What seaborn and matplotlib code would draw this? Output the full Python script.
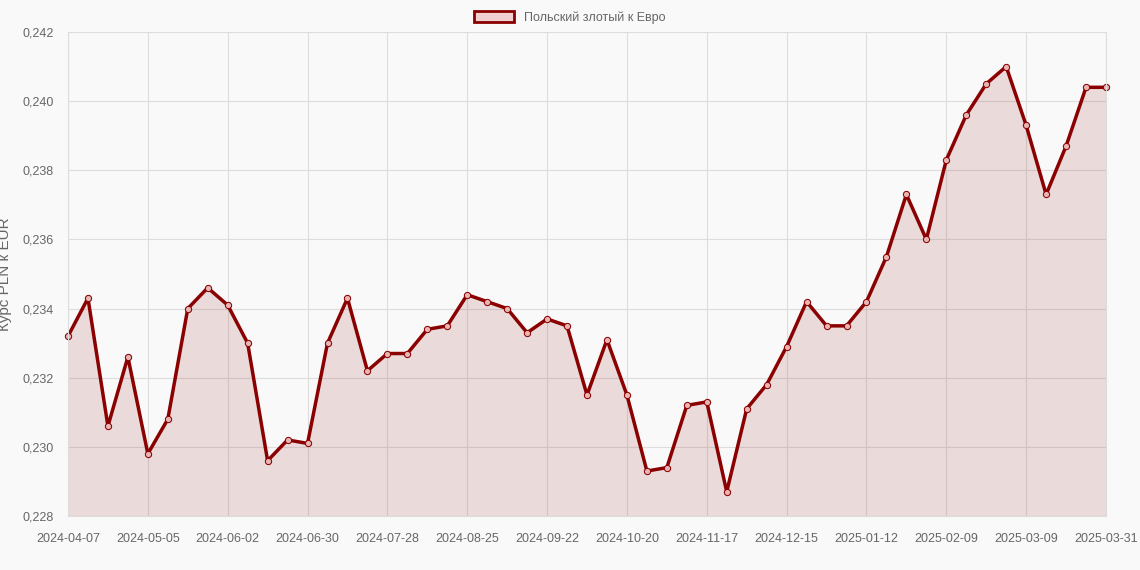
import seaborn as sns
from matplotlib import pyplot as plt
from matplotlib.patches import Patch
from matplotlib.ticker import FuncFormatter, FixedLocator
import pandas as pd

dates = [d.strftime("%Y-%m-%d") for d in pd.date_range("2024-04-07", periods=52, freq="7D")] + ["2025-03-31"]
rates = [0.2332, 0.2343, 0.2306, 0.2326, 0.2298, 0.2308, 0.2340, 0.2346, 0.2341, 0.2330,
         0.2296, 0.2302, 0.2301, 0.2330, 0.2343, 0.2322, 0.2327, 0.2327, 0.2334, 0.2335,
         0.2344, 0.2342, 0.2340, 0.2333, 0.2337, 0.2335, 0.2315, 0.2331, 0.2315, 0.2293,
         0.2294, 0.2312, 0.2313, 0.2287, 0.2311, 0.2318, 0.2329, 0.2342, 0.2335, 0.2335,
         0.2342, 0.2355, 0.2373, 0.2360, 0.2383, 0.2396, 0.2405, 0.2410, 0.2393, 0.2373,
         0.2387, 0.2404, 0.2404]
label = "Польский злотый к Евро"

df = pd.DataFrame({"idx": range(len(dates)), "rate": rates})
line_color = "#8b0000"

sns.set_style("whitegrid")
plt.rcParams["font.family"] = ["Liberation Sans", "DejaVu Sans"]
fig, ax = plt.subplots(figsize=(11.4, 5.7), dpi=100)
fig.patch.set_facecolor("#f9f9f9")
ax.set_facecolor("#f9f9f9")
fig.subplots_adjust(left=68 / 1140, right=1106 / 1140, top=1 - 32 / 570, bottom=1 - 516 / 570)

ax.fill_between(df["idx"], df["rate"], 0.228, color=line_color, alpha=0.12, linewidth=0)
sns.lineplot(data=df, x="idx", y="rate", ax=ax, color=line_color, linewidth=2.5,
             marker="o", markersize=4.5, markerfacecolor="#e8b4b4", markeredgecolor=line_color,
             clip_on=False)

ax.set_xlim(0, len(dates) - 1)
ax.set_ylim(0.228, 0.242)
ticks = list(range(0, 52, 4)) + [52]
ax.xaxis.set_major_locator(FixedLocator(ticks))
ax.set_xticklabels([dates[i] for i in ticks])
ax.set_yticks([0.228 + 0.002 * i for i in range(8)])
ax.yaxis.set_major_formatter(FuncFormatter(lambda v, p: f"{v:.3f}".replace(".", ",")))
ax.tick_params(labelsize=9, colors="#666666", length=0)
ax.tick_params(axis="x", pad=12)
ax.tick_params(axis="y", pad=10)
ax.set_xlabel("")
ax.set_ylabel("Курс PLN к EUR", fontsize=11, color="#666666", labelpad=8)
ax.grid(True, color="#dddddd", linewidth=0.8)
for s in ax.spines.values():
    s.set_color("#dddddd")

handle = Patch(facecolor="#f0d0d0", edgecolor=line_color, linewidth=2)
fig.legend([handle], [label], loc="upper center", bbox_to_anchor=(0.5, 1.0), frameon=False,
           fontsize=9, labelcolor="#666666", handlelength=3.2, handleheight=1.0)

fig.savefig("out.png", dpi=100, facecolor=fig.get_facecolor())
